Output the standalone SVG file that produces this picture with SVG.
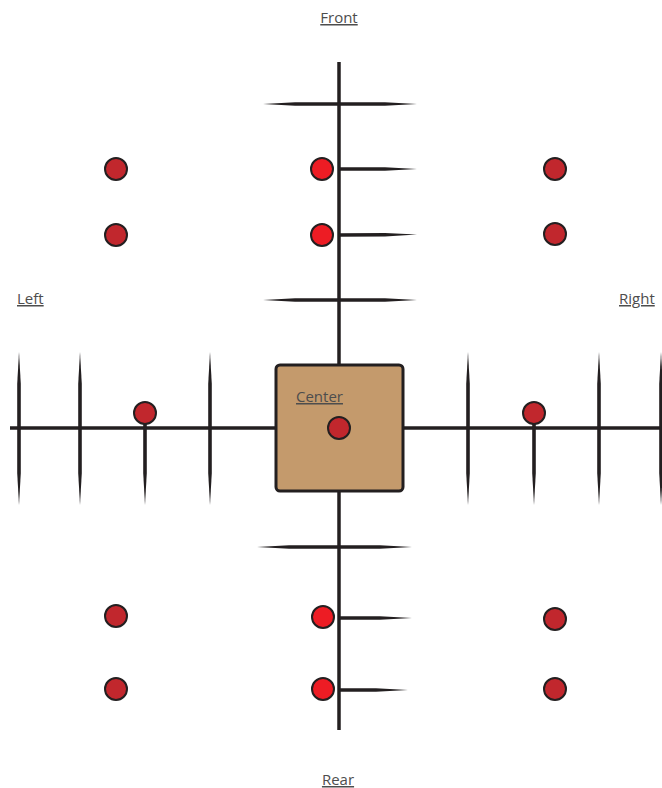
<svg xmlns="http://www.w3.org/2000/svg" width="662" height="788" viewBox="0 0 662 788">
<style>
.ax{stroke:#231f20;stroke-width:3.5;fill:none}
.tp{fill:#231f20}
.dk{fill:#c1272d;stroke:#231f20;stroke-width:2}
.br{fill:#ed1c24;stroke:#231f20;stroke-width:2}
.lb{font-family:"Open Sans","Liberation Sans",sans-serif;font-size:15px;fill:#4d4d4d;text-decoration:underline}
</style>
<rect width="662" height="788" fill="#fff"/>
<g id="connectors">
<line class="ax" x1="339" y1="62" x2="339" y2="730"/>
<line class="ax" x1="10" y1="428" x2="662" y2="428"/>
<!-- front crossbars -->
<polygon class="tp" points="263,104 295,102.2 385,102.2 417,104 385,105.8 295,105.8"/>
<polygon class="tp" points="263,300 295,298.2 385,298.2 417,300 385,301.8 295,301.8"/>
<polygon class="tp" points="339,167.2 385,167.2 417,169 385,170.8 339,170.8"/>
<polygon class="tp" points="339,233.2 385,233 417,234.5 385,236.4 339,236.8"/>
<!-- rear crossbars -->
<polygon class="tp" points="257,547 289,545.2 380,545.2 412,547 380,548.8 289,548.8"/>
<polygon class="tp" points="339,616.2 380,616.2 412,618 380,619.8 339,619.8"/>
<polygon class="tp" points="339,688.2 376,688.2 408,690 376,691.8 339,691.8"/>
<!-- left ticks -->
<polygon class="tp" points="19,352 20.8,384 20.8,473 19,505 17.2,473 17.2,384"/>
<polygon class="tp" points="80,352 81.8,384 81.8,473 80,505 78.2,473 78.2,384"/>
<polygon class="tp" points="210,352 211.8,384 211.8,473 210,505 208.2,473 208.2,384"/>
<polygon class="tp" points="143.2,424 146.8,424 146.8,473 145,505 143.2,473"/>
<!-- right ticks -->
<polygon class="tp" points="468,352 469.8,384 469.8,473 468,505 466.2,473 466.2,384"/>
<polygon class="tp" points="599,352 600.8,384 600.8,473 599,505 597.2,473 597.2,384"/>
<polygon class="tp" points="661,352 662.8,384 662.8,473 661,505 659.2,473 659.2,384"/>
<polygon class="tp" points="532.2,424 535.8,424 535.8,473 534,505 532.2,473"/>
</g>
<g id="center">
<rect x="276" y="365" width="127" height="126" rx="4" fill="#c49a6c" stroke="#231f20" stroke-width="3"/>
<text class="lb" x="296" y="402">Center</text>
<circle class="dk" cx="339" cy="428" r="11"/>
</g>
<g id="front-label"><text class="lb" x="339" y="23" text-anchor="middle">Front</text></g>
<g id="rear-label"><text class="lb" x="338" y="785" text-anchor="middle">Rear</text></g>
<g id="left-label"><text class="lb" x="17" y="304">Left</text></g>
<g id="right-label"><text class="lb" x="619" y="304">Right</text></g>
<g id="dot-f1"><circle class="br" cx="322" cy="169" r="11"/></g>
<g id="dot-f2"><circle class="br" cx="322" cy="235" r="11"/></g>
<g id="dot-r1"><circle class="br" cx="323" cy="617" r="11"/></g>
<g id="dot-r2"><circle class="br" cx="323" cy="689" r="11"/></g>
<g id="dot-l"><circle class="dk" cx="145" cy="413" r="11"/></g>
<g id="dot-rt"><circle class="dk" cx="534" cy="413" r="11"/></g>
<g id="dot-fl1"><circle class="dk" cx="116" cy="169" r="11"/></g>
<g id="dot-fl2"><circle class="dk" cx="116" cy="235" r="11"/></g>
<g id="dot-fr1"><circle class="dk" cx="555" cy="169" r="11"/></g>
<g id="dot-fr2"><circle class="dk" cx="555" cy="234" r="11"/></g>
<g id="dot-rl1"><circle class="dk" cx="116" cy="616" r="11"/></g>
<g id="dot-rl2"><circle class="dk" cx="116" cy="689" r="11"/></g>
<g id="dot-rr1"><circle class="dk" cx="555" cy="619" r="11"/></g>
<g id="dot-rr2"><circle class="dk" cx="555" cy="689" r="11"/></g>
</svg>
